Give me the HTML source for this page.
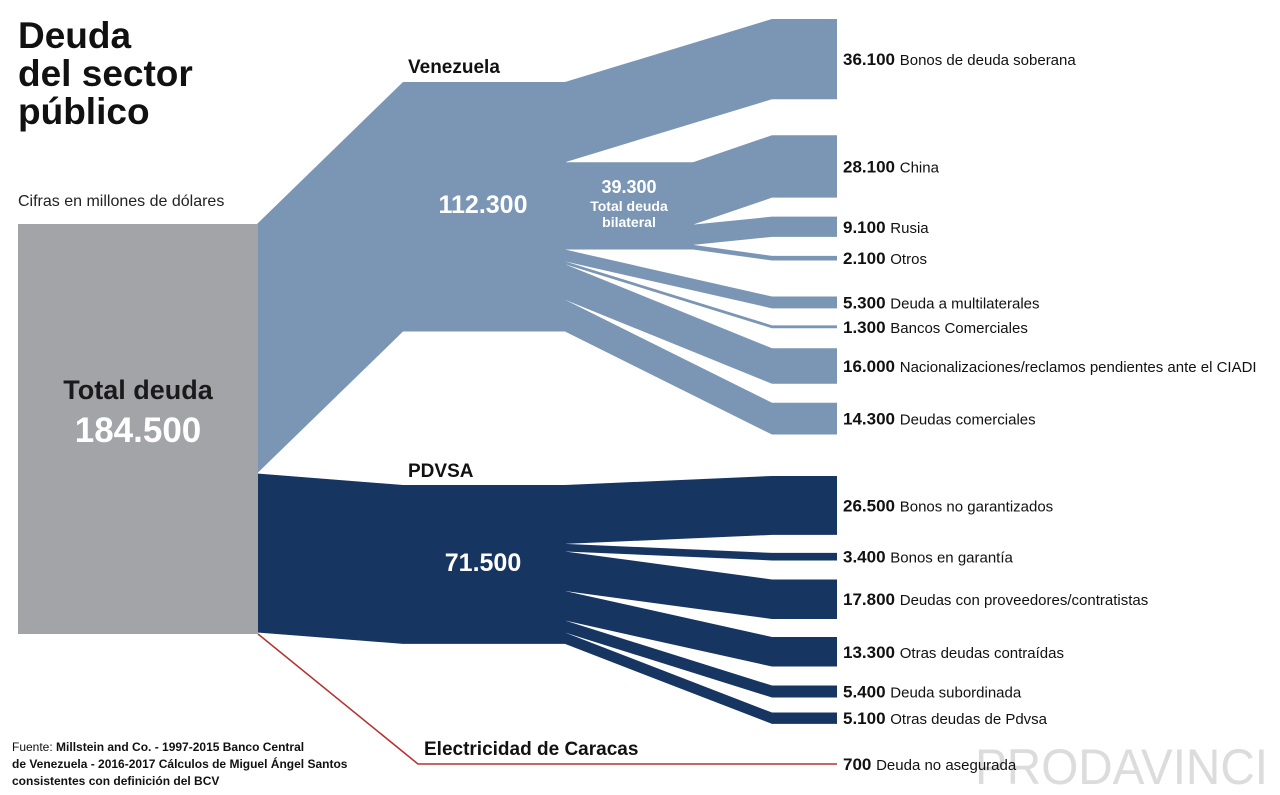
<!DOCTYPE html>
<html><head><meta charset="utf-8">
<style>
html,body{margin:0;padding:0;background:#fff;}
body{width:1280px;height:795px;overflow:hidden;position:relative;font-family:"Liberation Sans",sans-serif;}
svg{position:absolute;left:0;top:0;}
</style></head>
<body>
<svg id="chart" width="1280" height="795" viewBox="0 0 1280 795">
  <text x="18" y="48" font-size="37" font-weight="bold" fill="#111">Deuda</text>
  <text x="18" y="86" font-size="37" font-weight="bold" fill="#111">del sector</text>
  <text x="18" y="124" font-size="37" font-weight="bold" fill="#111">público</text>
  <text x="18" y="206" font-size="16" fill="#222">Cifras en millones de dólares</text>
  <text x="975" y="784" font-size="50" fill="#dcdcdc" textLength="293" lengthAdjust="spacingAndGlyphs">PRODAVINCI</text>
  <text x="12" y="751" font-size="12" fill="#111">Fuente: <tspan font-weight="bold">Millstein and Co. - 1997-2015 Banco Central</tspan></text>
  <text x="12" y="768" font-size="12" font-weight="bold" fill="#111">de Venezuela - 2016-2017 Cálculos de Miguel Ángel Santos</text>
  <text x="12" y="785" font-size="12" font-weight="bold" fill="#111">consistentes con definición del BCV</text>
</svg>
<script>
// ---- data ----
const totalValue = 184500;
const groupNames = ["Venezuela", "PDVSA", "Electricidad de Caracas"];
const groupValues = [112300, 71500, 700];
const venCategories = ["Bonos de deuda soberana","China","Rusia","Otros","Deuda a multilaterales","Bancos Comerciales","Nacionalizaciones/reclamos pendientes ante el CIADI","Deudas comerciales"];
const venValues = [36100, 28100, 9100, 2100, 5300, 1300, 16000, 14300];
const venLabels = ["36.100","28.100","9.100","2.100","5.300","1.300","16.000","14.300"];
const bilateralValue = 39300;
const pdvCategories = ["Bonos no garantizados","Bonos en garantía","Deudas con proveedores/contratistas","Otras deudas contraídas","Deuda subordinada","Otras deudas de Pdvsa"];
const pdvValues = [26500, 3400, 17800, 13300, 5400, 5100];
const pdvLabels = ["26.500","3.400","17.800","13.300","5.400","5.100"];
const elecCategories = ["Deuda no asegurada"];
const elecValues = [700];
const elecLabels = ["700"];

// ---- layout ----
const svg = document.getElementById('chart');
const NS = 'http://www.w3.org/2000/svg';
const k = 410 / totalValue; // px per unit
const h = v => v * k;
const X0 = 258, X1 = 403, X2 = 566, XB = 694, XR = 772, XE = 837;
const venGaps = [19, 36, 19, 19, 36, 17, 20, 19];
const pdvGaps = [476, 18, 19, 18, 19, 15];
const COL_V = '#7a96b4', COL_P = '#173561', COL_R = '#b53333';

function poly(pts, fill, name) {
  const p = document.createElementNS(NS, 'polygon');
  p.setAttribute('points', pts.map(a => a.join(',')).join(' '));
  p.setAttribute('fill', fill);
  
  
  svg.insertBefore(p, svg.firstChild);
  return p;
}
function txt(x, y, s, size, weight, fill, anchor, name) {
  const t = document.createElementNS(NS, 'text');
  t.setAttribute('x', x); t.setAttribute('y', y);
  t.setAttribute('font-size', size);
  if (weight) t.setAttribute('font-weight', weight);
  t.setAttribute('fill', fill);
  if (anchor) t.setAttribute('text-anchor', anchor);
  t.textContent = s;
  
  
  svg.appendChild(t);
  return t;
}
function label(yc, val, cat, name) {
  const t = document.createElementNS(NS, 'text');
  t.setAttribute('x', 843); t.setAttribute('y', yc + 6);
  t.setAttribute('font-size', 15); t.setAttribute('fill', '#111');
  const a = document.createElementNS(NS, 'tspan');
  a.setAttribute('font-weight', 'bold'); a.setAttribute('font-size', 17);
  a.textContent = val + ' ';
  const b = document.createElementNS(NS, 'tspan');
  b.textContent = cat;
  t.appendChild(a); t.appendChild(b);
  
  
  svg.appendChild(t);
}

// gray total bar
const GT = 224;
const totalH = h(totalValue);
// group trunks
const vH = h(groupValues[0]), pH = h(groupValues[1]);
const vTop = 82, pTop = 485;
const vLeft = GT, pLeft = GT + vH;

// right column positions
const venTop = []; let y = 0;
venValues.forEach((v, i) => { y += venGaps[i]; venTop.push(y); y += h(v); });
const pdvTop = []; y = 0;
pdvValues.forEach((v, i) => { y += pdvGaps[i]; pdvTop.push(y); y += h(v); });

// Venezuela branches
let sy = vTop;
const bilIdx = [1, 2, 3];
venValues.forEach((v, i) => {
  const name = 'flow-ven-' + i;
  if (i === 1) {
    // bilateral trunk
    const bh = h(bilateralValue);
    poly([[X2 - 1, sy], [XB, sy], [XB, sy + bh], [X2 - 1, sy + bh]], COL_V, 'flow-bilateral');
  }
  if (bilIdx.includes(i)) {
    poly([[XB - 1, sy], [XR, venTop[i]], [XE, venTop[i]], [XE, venTop[i] + h(v)], [XR, venTop[i] + h(v)], [XB - 1, sy + h(v)]], COL_V, name);
  } else {
    poly([[X2 - 1, sy], [XR, venTop[i]], [XE, venTop[i]], [XE, venTop[i] + h(v)], [XR, venTop[i] + h(v)], [X2 - 1, sy + h(v)]], COL_V, name);
  }
  label(venTop[i] + h(v) / 2, venLabels[i], venCategories[i], 'label-ven-' + i);
  sy += h(v);
});
// PDVSA branches
sy = pTop;
pdvValues.forEach((v, i) => {
  poly([[X2 - 1, sy], [XR, pdvTop[i]], [XE, pdvTop[i]], [XE, pdvTop[i] + h(v)], [XR, pdvTop[i] + h(v)], [X2 - 1, sy + h(v)]], COL_P, 'flow-pdvsa-' + i);
  label(pdvTop[i] + h(v) / 2, pdvLabels[i], pdvCategories[i], 'label-pdvsa-' + i);
  sy += h(v);
});
// trunks
poly([[X0 - 1, vLeft], [X1, vTop], [X2, vTop], [X2, vTop + vH], [X1, vTop + vH], [X0 - 1, vLeft + vH]], COL_V, 'trunk-venezuela');
poly([[X0 - 1, pLeft], [X1, pTop], [X2, pTop], [X2, pTop + pH], [X1, pTop + pH], [X0 - 1, pLeft + pH]], COL_P, 'trunk-pdvsa');
// gray total
const r = document.createElementNS(NS, 'rect');
r.setAttribute('x', 18); r.setAttribute('y', GT); r.setAttribute('width', X0 - 18); r.setAttribute('height', totalH);
r.setAttribute('fill', '#a3a4a8');


svg.appendChild(r);
// electricidad line
const eY = 764;
const pl = document.createElementNS(NS, 'polyline');
pl.setAttribute('points', `${X0},${GT + totalH} 418,${eY} ${XE},${eY}`);
pl.setAttribute('fill', 'none'); pl.setAttribute('stroke', COL_R); pl.setAttribute('stroke-width', Math.max(1.3, h(elecValues[0])));


svg.appendChild(pl);
label(eY, elecLabels[0], elecCategories[0], 'label-electricidad-0');

// node labels
txt(138, 399, 'Total deuda', 27, 'bold', '#1a1a1a', 'middle', 'total-label');
txt(138, 442, '184.500', 35, 'bold', '#fff', 'middle', 'total-value');
txt(408, 73, groupNames[0], 19, 'bold', '#111', null, 'venezuela-label');
txt(483, 213, '112.300', 25, 'bold', '#fff', 'middle', 'venezuela-value');
txt(629, 193, '39.300', 18, 'bold', '#fff', 'middle', 'bilateral-value');
txt(629, 211, 'Total deuda', 14, 'bold', '#fff', 'middle', 'bilateral-label-1');
txt(629, 227, 'bilateral', 14, 'bold', '#fff', 'middle', 'bilateral-label-2');
txt(408, 477, groupNames[1], 19, 'bold', '#111', null, 'pdvsa-label');
txt(483, 571, '71.500', 25, 'bold', '#fff', 'middle', 'pdvsa-value');
txt(424, 755, groupNames[2], 19, 'bold', '#111', null, 'electricidad-label');
</script>
</body></html>
